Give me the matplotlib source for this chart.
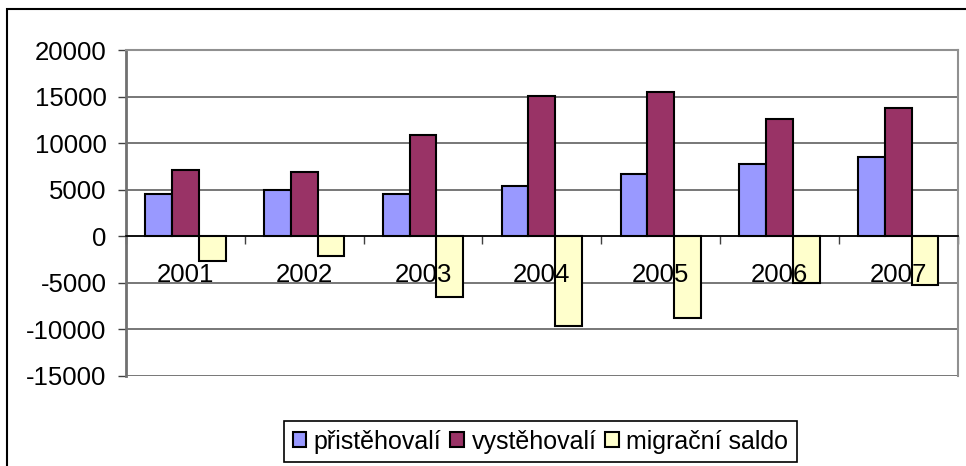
import matplotlib.pyplot as plt
import matplotlib.patches as patches
import numpy as np

plt.rcParams['font.family'] = ['Liberation Sans', 'DejaVu Sans']

years = ["2001", "2002", "2003", "2004", "2005", "2006", "2007"]
prist = [4550, 5000, 4550, 5400, 6650, 7700, 8550]
vyst = [7100, 6900, 10900, 15100, 15500, 12550, 13800]
saldo = [-2650, -2100, -6500, -9650, -8800, -5000, -5300]

series_names = ["přistěhovalí", "vystěhovalí", "migrační saldo"]
colors = ["#9999FF", "#993366", "#FFFFCC"]
yticks = [-15000, -10000, -5000, 0, 5000, 10000, 15000, 20000]

fig = plt.figure(figsize=(9.66, 4.66), dpi=100)
ax = fig.add_axes([126/966, 1 - 375.7/466, (957.7 - 126)/966, (375.7 - 50)/466])

x = np.arange(len(years))
w = 0.225
for i, vals in enumerate([prist, vyst, saldo]):
    ax.bar(x + (i - 1) * w, vals, w, color=colors[i], edgecolor="black",
           linewidth=1.5, label=series_names[i], zorder=1)

# gridlines drawn behind bars, axis labels stay on top
for yv in yticks:
    ax.axhline(yv, color="#606060", linewidth=1.2, zorder=0.5)

ax.set_xlim(-0.5, len(years) - 0.5)
ax.set_ylim(-15000, 20000)
ax.set_yticks(yticks)
ax.set_yticklabels([str(v) for v in yticks], fontsize=18.5)
ax.tick_params(axis="y", direction="out", length=6, width=1, color="#404040", pad=8)

# category axis at zero
ax.spines["bottom"].set_position(("data", 0))
ax.spines["bottom"].set_color("black")
ax.spines["bottom"].set_linewidth(1.2)
ax.set_xticks(np.arange(len(years) + 1) - 0.5)
ax.set_xticklabels([])
ax.tick_params(axis="x", which="major", direction="out", length=6, width=1, color="#404040")
ax.set_xticks(x, minor=True)
ax.set_xticklabels(years, minor=True, fontsize=18.5)
ax.tick_params(axis="x", which="minor", length=0, pad=19)

for s in ["top", "right"]:
    ax.spines[s].set_color("#909090")
    ax.spines[s].set_linewidth(1.5)
ax.spines["left"].set_color("#707070")
ax.spines["left"].set_linewidth(2)

# outer chart border
fig.patches.append(patches.Rectangle((7/966, -0.05), 1.2, 1 - 9/466 + 0.05,
                                     transform=fig.transFigure, fill=False,
                                     edgecolor="black", linewidth=1.5))

leg = fig.legend(loc="center", bbox_to_anchor=(540.5/966, 1 - 441.5/466),
                 bbox_transform=fig.transFigure, ncol=3, fontsize=18,
                 fancybox=False, edgecolor="black", framealpha=1,
                 handlelength=0.55, handleheight=0.55, handletextpad=0.3,
                 columnspacing=0.35, borderpad=0.33, borderaxespad=0)
leg.get_frame().set_linewidth(1.2)

fig.savefig("out.png", dpi=100)
